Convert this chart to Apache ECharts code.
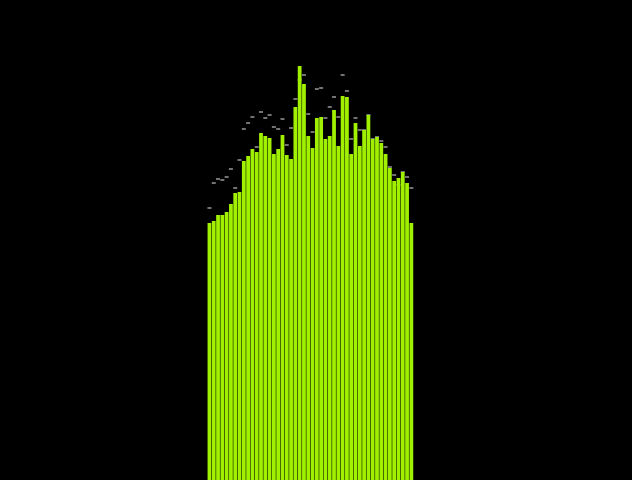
<!DOCTYPE html>
<html>
<head>
<meta charset="utf-8">
<script src="https://cdn.jsdelivr.net/npm/echarts@6/dist/echarts.min.js"></script>
<style>
html,body{margin:0;padding:0;background:#000;}
#chart{width:632px;height:480px;}
</style>
</head>
<body>
<div id="chart"></div>
<script>
var categories = ['1','2','3','4','5','6','7','8','9','10','11','12','13','14','15','16','17','18','19','20','21','22','23','24','25','26','27','28','29','30','31','32','33','34','35','36','37','38','39','40','41','42','43','44','45','46','47','48'];
var barValues = [257,259,265,265,268,276,287,288,319,324,331,328,347,344,342,326,331,345,325,321,373,414,396,344,332,362,363,341,344,370,334,384,383,326,357,334,350,365,341,343,337,326,312,299,302,308,297,257];
var markValues = [272,297,301,300,303,311,292,320,351,357,363,333,368,362,365,353,351,361,335,352,381,400,405,366,348,391,392,362,373,383,363,405,389,341,362,350,350,365,341,343,339,333,313,305,295,308,303,292];

var chart = echarts.init(document.getElementById('chart'));
chart.setOption({
  backgroundColor: '#000',
  animation: false,
  grid: {left: 207.3, right: 218.5, top: 0, bottom: 0},
  xAxis: {type: 'category', data: categories, show: false},
  yAxis: {type: 'value', min: 0, max: 480, show: false},
  series: [
    {
      type: 'scatter',
      data: markValues,
      symbol: 'rect',
      symbolSize: [4, 1.8],
      itemStyle: {color: '#a0a0a0'},
      z: 1
    },
    {
      type: 'bar',
      data: barValues,
      barCategoryGap: '12%',
      itemStyle: {color: '#a0f000'},
      z: 2
    }
  ]
});
</script>
</body>
</html>
